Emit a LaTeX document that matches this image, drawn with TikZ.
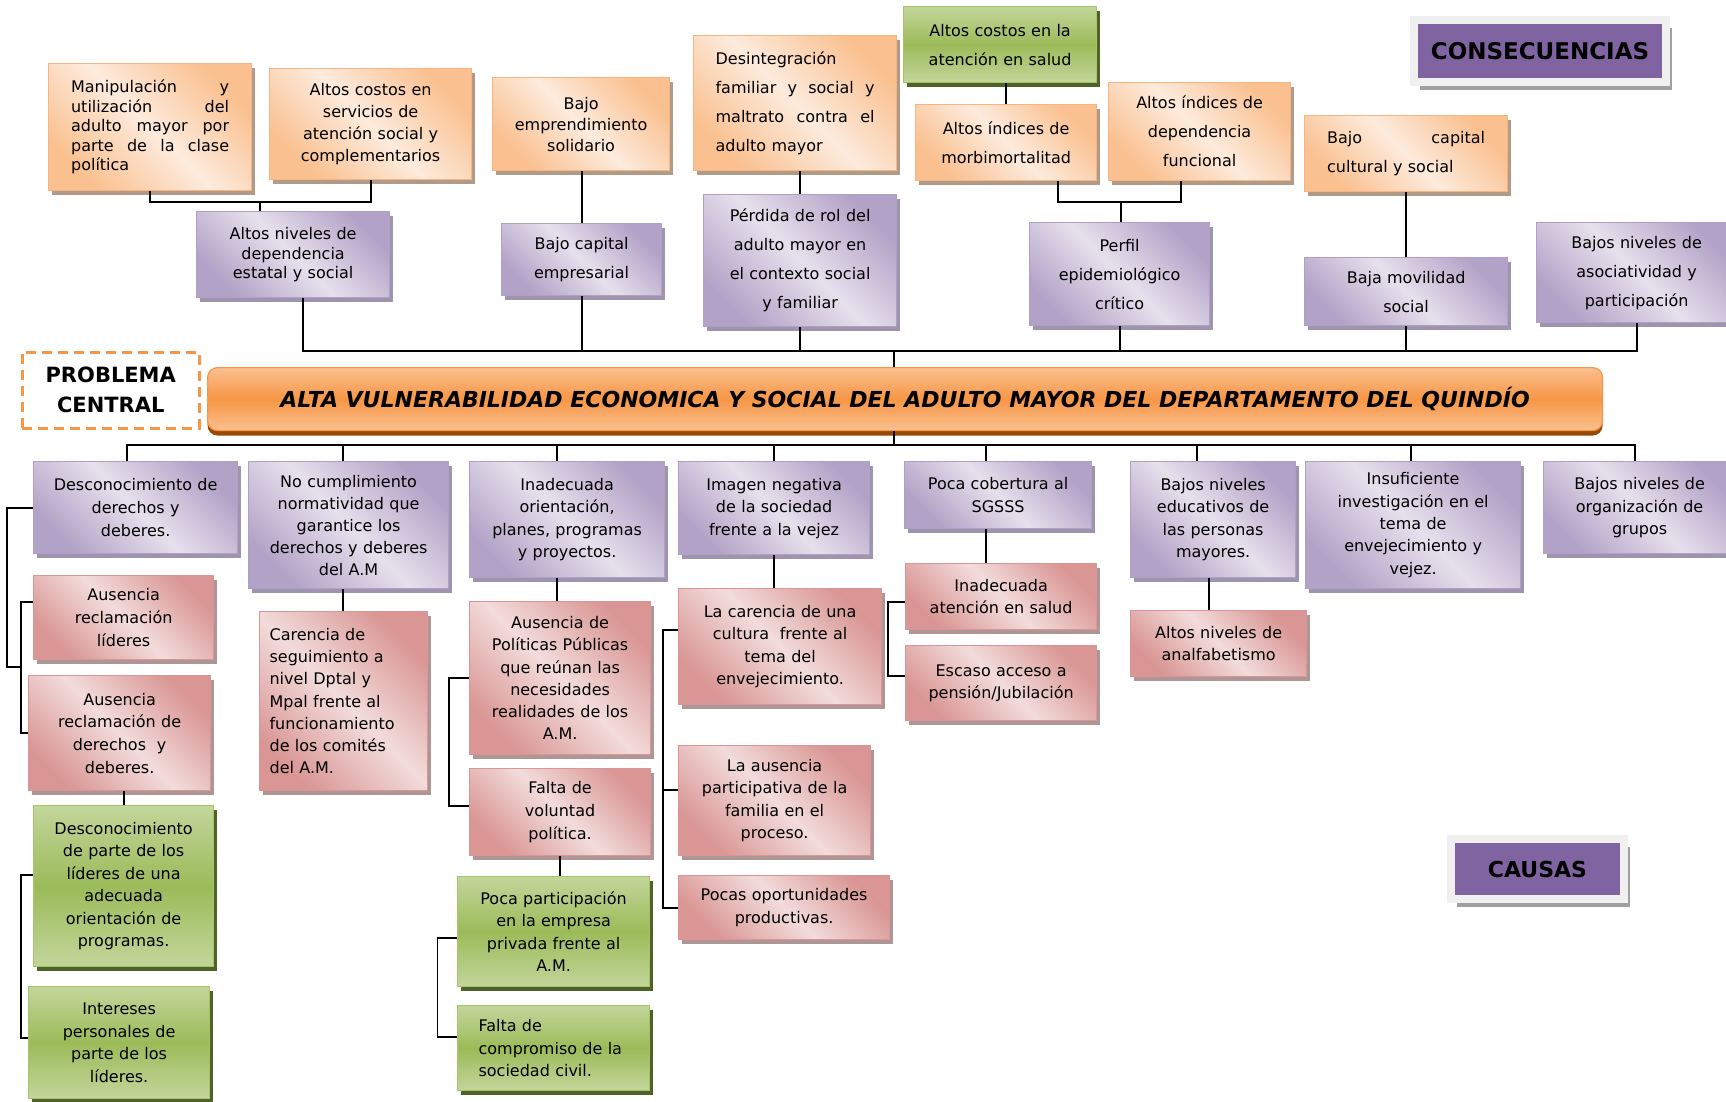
\documentclass[tikz,border=0pt]{standalone}
\usepackage{fontspec}
\setmainfont{DejaVu Sans}
\usetikzlibrary{shadows}

\definecolor{naClaro}{HTML}{FDEBDD}
\definecolor{naOsc}{HTML}{FAC08F}
\definecolor{naBorde}{HTML}{F8B482}
\definecolor{naSombra}{HTML}{B09A88}
\definecolor{moClaro}{HTML}{E6E0EC}
\definecolor{moOsc}{HTML}{B3A2C7}
\definecolor{moBorde}{HTML}{B1A0C6}
\definecolor{moSombra}{HTML}{9F94AD}
\definecolor{roClaro}{HTML}{F2DCDB}
\definecolor{roOsc}{HTML}{D99694}
\definecolor{roBorde}{HTML}{D99694}
\definecolor{roSombra}{HTML}{AE9696}
\definecolor{veClaro}{HTML}{C3D69B}
\definecolor{veOsc}{HTML}{9BBB59}
\definecolor{veBorde}{HTML}{A6C46A}
\definecolor{veSombra}{HTML}{4F6228}
\definecolor{cenClaro}{HTML}{FAC08F}
\definecolor{cenOsc}{HTML}{F79646}
\definecolor{cenSombra}{HTML}{984807}
\definecolor{lila}{HTML}{8064A2}
\definecolor{marco}{HTML}{F0F0F0}
\definecolor{gris}{HTML}{A0A0A0}

\tikzset{
  caja/.style={rectangle, anchor=north west, inner sep=0pt, line width=1.2pt, align=center, text=black},
  sombra/.style={drop shadow={shadow xshift=3pt, shadow yshift=-4pt, fill=#1, opacity=1}},
  esp/.style={font=\fontsize{16}{#1}\selectfont},
  nar/.style={caja, draw=naBorde, top color=naOsc, bottom color=naOsc, middle color=naClaro, shading angle=-45, sombra=naSombra},
  mor/.style={caja, draw=moBorde, top color=moOsc, bottom color=moOsc, middle color=moClaro, shading angle=-45, sombra=moSombra},
  ros/.style={caja, draw=roBorde, top color=roOsc, bottom color=roOsc, middle color=roClaro, shading angle=-45, sombra=roSombra},
  ver/.style={caja, draw=veBorde, top color=veClaro, bottom color=veClaro, middle color=veOsc, sombra=veSombra},
  etiq/.style={caja, draw=marco, line width=8pt, fill=lila, font=\fontsize{#1}{25}\selectfont\bfseries,
    drop shadow={shadow xshift=6pt, shadow yshift=-8pt, fill=gris, opacity=1}},
  problema/.style={caja, draw=cenOsc, dash pattern=on 10pt off 6pt, line width=2.5pt, font=\fontsize{21}{30}\selectfont\bfseries},
  central/.style={caja, rounded corners=10pt, draw=cenOsc, top color=cenClaro, bottom color=cenClaro, middle color=cenOsc,
    drop shadow={shadow xshift=0pt, shadow yshift=-5pt, fill=cenSombra, opacity=1}, font=\fontsize{22}{25}\selectfont\bfseries\itshape},
  linea/.style={line width=1.9pt, black},
}

\begin{document}
\begin{tikzpicture}[x=1pt,y=-1pt]
\useasboundingbox[fill=white] (0,0) rectangle (1726,1102);

% consecuencias
\node[nar, esp=19.5, align=left, text width=158pt, minimum width=203, minimum height=127] (M1) at (48,63)
  {Manipulación\hfill y\\utilización\hfill del\\adulto\hfill mayor\hfill por\\parte\hfill de\hfill la\hfill clase\\política};
\node[nar, esp=22, text width=190pt, minimum width=202, minimum height=111] (M2) at (269,68)
  {Altos costos en\\servicios de\\atención social y\\complementarios};
\node[nar, esp=21, text width=170pt, minimum width=177, minimum height=93] (M3) at (492,77)
  {Bajo\\emprendimiento\\solidario};
\node[nar, esp=29, align=left, text width=159pt, minimum width=203, minimum height=135] (M4) at (693,35)
  {Desintegración\\familiar\hfill y\hfill social\hfill y\\maltrato\hfill contra\hfill el\\adulto mayor};
\node[ver, esp=29, text width=185pt, minimum width=193, minimum height=76] (M5) at (903,6)
  {Altos costos en la\\atención en salud};
\node[nar, esp=29, text width=175pt, minimum width=181, minimum height=76] (M6) at (915,104)
  {Altos índices de\\morbimortalitad};
\node[nar, esp=29, text width=175pt, minimum width=182, minimum height=98] (M7) at (1108,82)
  {Altos índices de\\dependencia\\funcional};
\node[nar, esp=29, align=left, text width=158pt, minimum width=203, minimum height=76] (M8) at (1304,115)
  {Bajo\hfill capital\\cultural y social};

\node[mor, esp=19.5, text width=185pt, minimum width=193, minimum height=86] (P1) at (196,211)
  {Altos niveles de\\dependencia\\estatal y social};
\node[mor, esp=28.5, text width=155pt, minimum width=160, minimum height=72] (P2) at (501,223)
  {Bajo capital\\empresarial};
\node[mor, esp=29, text width=185pt, minimum width=193, minimum height=132] (P3) at (703,194)
  {Pérdida de rol del\\adulto mayor en\\el contexto social\\y familiar};
\node[mor, esp=29, text width=175pt, minimum width=180, minimum height=103] (P4) at (1029,222)
  {Perfil\\epidemiológico\\crítico};
\node[mor, esp=29, text width=195pt, minimum width=203, minimum height=68] (P5) at (1304,257)
  {Baja movilidad\\social};
\node[mor, esp=29, text width=195pt, minimum width=200, minimum height=100] (P6) at (1536,222)
  {Bajos niveles de\\asociatividad y\\participación};

\node[etiq=23, minimum width=252, minimum height=62] (L1) at (1410,16) {CONSECUENCIAS};

% problema central
\node[problema, text width=170pt, minimum width=177, minimum height=76] (PC) at (21,351) {PROBLEMA\\CENTRAL};
\node[central, minimum width=1395, minimum height=63] (C) at (207,367)
  {ALTA VULNERABILIDAD ECONOMICA Y SOCIAL DEL ADULTO MAYOR DEL DEPARTAMENTO DEL QUINDÍO};

% causas
\node[mor, esp=23, text width=198pt, minimum width=204, minimum height=92] (C1) at (33,461)
  {Desconocimiento de\\derechos y\\deberes.};
\node[mor, esp=22, text width=195pt, minimum width=200, minimum height=127] (C2) at (248,461)
  {No cumplimiento\\normatividad que\\garantice los\\derechos y deberes\\del A.M};
\node[mor, esp=22.5, text width=190pt, minimum width=195, minimum height=116] (C3) at (469,461)
  {Inadecuada\\orientación,\\planes, programas\\y proyectos.};
\node[mor, esp=22.5, text width=185pt, minimum width=191, minimum height=93] (C4) at (678,461)
  {Imagen negativa\\de la sociedad\\frente a la vejez};
\node[mor, esp=22.5, text width=180pt, minimum width=187, minimum height=67] (C5) at (904,461)
  {Poca cobertura al\\SGSSS};
\node[mor, esp=22.5, text width=160pt, minimum width=165, minimum height=116] (C6) at (1130,461)
  {Bajos niveles\\educativos de\\las personas\\mayores.};
\node[mor, esp=22.3, text width=205pt, minimum width=215, minimum height=127] (C7) at (1305,461)
  {Insuficiente\\investigación en el\\tema de\\envejecimiento y\\vejez.};
\node[mor, esp=22.7, text width=185pt, minimum width=192, minimum height=92] (C8) at (1543,461)
  {Bajos niveles de\\organización de\\grupos};

\node[ros, esp=23, text width=175pt, minimum width=180, minimum height=84] (R1) at (33,575)
  {Ausencia\\reclamación\\líderes};
\node[ros, esp=22.7, text width=175pt, minimum width=182, minimum height=115] (R2) at (28,675)
  {Ausencia\\reclamación de\\derechos\ \ y\\deberes.};
\node[ros, esp=22.3, align=left, text width=148pt, minimum width=168, minimum height=179] (R3) at (259,611)
  {Carencia de\\seguimiento a\\nivel Dptal y\\Mpal frente al\\funcionamiento\\de los comités\\del A.M.};
\node[ros, esp=22.3, text width=175pt, minimum width=181, minimum height=153] (R4) at (469,601)
  {Ausencia de\\Políticas Públicas\\que reúnan las\\necesidades\\realidades de los\\A.M.};
\node[ros, esp=22.7, text width=175pt, minimum width=181, minimum height=87] (R5) at (469,768)
  {Falta de\\voluntad\\política.};
\node[ros, esp=22.5, text width=195pt, minimum width=203, minimum height=116] (R6) at (678,588)
  {La carencia de una\\cultura\ \ frente al\\tema del\\envejecimiento.};
\node[ros, esp=22.6, text width=185pt, minimum width=192, minimum height=110] (R7) at (678,745)
  {La ausencia\\participativa de la\\familia en el\\proceso.};
\node[ros, esp=22.5, text width=205pt, minimum width=211, minimum height=64] (R8) at (678,875)
  {Pocas oportunidades\\productivas.};
\node[ros, esp=22, text width=185pt, minimum width=191, minimum height=66] (R9) at (905,563)
  {Inadecuada\\atención en salud};
\node[ros, esp=22, text width=185pt, minimum width=191, minimum height=75] (R10) at (905,645)
  {Escaso acceso a\\pensión/Jubilación};
\node[ros, esp=22, text width=170pt, minimum width=176, minimum height=66] (R11) at (1130,610)
  {Altos niveles de\\analfabetismo};

\node[ver, esp=22.5, text width=175pt, minimum width=180, minimum height=161] (V1) at (33,805)
  {Desconocimiento\\de parte de los\\líderes de una\\adecuada\\orientación de\\programas.};
\node[ver, esp=22.5, text width=175pt, minimum width=181, minimum height=112] (V2) at (28,986)
  {Intereses\\personales de\\parte de los\\líderes.};
\node[ver, esp=22.5, text width=185pt, minimum width=192, minimum height=110] (V3) at (457,876)
  {Poca participación\\en la empresa\\privada frente al\\A.M.};
\node[ver, esp=22.5, align=left, text width=150pt, minimum width=192, minimum height=85] (V4) at (457,1005)
  {Falta de\\compromiso de la\\sociedad civil.};

\node[etiq=22, minimum width=173, minimum height=60] (L2) at (1447,835) {CAUSAS};

% conectores de consecuencias
\coordinate (j1) at (260,202);
\coordinate (j2) at (1121,202);
\coordinate (bs) at (894,351);
\coordinate (bi) at (894,445);
\draw[linea] (M1.south) |- (j1) -| (M2.south);
\draw[linea] (j1) -- (j1 |- P1.north);
\draw[linea] (P2.north |- M3.south) -- (P2.north);
\draw[linea] (P3.north |- M4.south) -- (P3.north);
\draw[linea] (M5.south -| M6.north) -- (M6.north);
\draw[linea] ([xshift=52pt]M6.south) |- (j2) -| ([xshift=-19pt]M7.south);
\draw[linea] (j2) -- (j2 |- P4.north);
\draw[linea] (M8.south) -- (P5.north);
\draw[linea] ([xshift=10pt]P1.south) |- (bs) -| (P6.south);
\foreach \n in {P2,P3,P4,P5} \draw[linea] (\n.south) -- (\n.south |- bs);
\draw[linea] (bs) -- (bs |- C.north);

% conectores de causas
\draw[linea] (C.south -| bi) -- (bi);
\draw[linea] ([xshift=-9pt]C1.north) |- (bi) -| ([xshift=-5pt]C8.north);
\foreach \n/\s in {C2/-6,C3/-10,C4/0,C5/-12,C6/-16,C7/-2}
  \draw[linea] ([xshift=\s pt]\n.north) -- ([xshift=\s pt]\n.north |- bi);
\draw[linea] ([xshift=-6pt]C2.south) -- ([xshift=-6pt]C2.south |- R3.north);
\draw[linea] ([xshift=-10pt]C3.south) -- ([xshift=-10pt]C3.south |- R4.north);
\draw[linea] (C4.south) -- (C4.south |- R6.north);
\draw[linea] ([xshift=-12pt]C5.south) -- ([xshift=-12pt]C5.south |- R9.north);
\draw[linea] ([xshift=-4pt]C6.south) -- ([xshift=-4pt]C6.south |- R11.north);
\draw[linea] (V1.north |- R2.south) -- (V1.north);
\draw[linea] (R5.south) -- (R5.south |- V3.north);
% llaves laterales
\coordinate (k0) at (7,667);
\coordinate (k1) at (21,667);
\draw[linea] (C1.west) -| (k0) -- (k1);
\draw[linea] ([yshift=16pt]R1.west) -| (k1) |- (R2.west);
\draw[linea] ([yshift=11pt]V1.west) -- ++(-12,0) |- ([yshift=5pt]V2.west);
\draw[linea] (R4.west) -- ++(-20,0) |- ([yshift=6pt]R5.west);
\draw[linea] ([yshift=-6pt]V3.west) -- ++(-19.5,0) |- ([yshift=11pt]V4.west);
\draw[linea] ([yshift=17pt]R6.west) -- ++(-15,0) |- (R8.west);
\draw[linea] ([yshift=11pt]R7.west) -- ++(-15,0);
\draw[linea] ([yshift=-5pt]R9.west) -- ++(-17,0) |- ([yshift=7pt]R10.west);
\end{tikzpicture}
\end{document}
